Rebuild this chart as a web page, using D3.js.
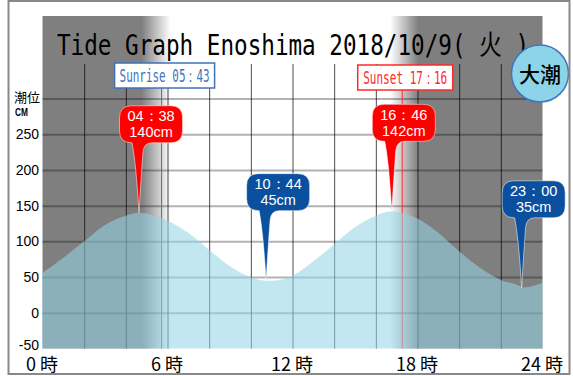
<html>
<head>
  <meta charset="utf-8">
  <script src="https://d3js.org/d3.v7.min.js"></script>
  <style>
    body { margin: 0; background: #fff; }
  </style>
  <script>
    // tide curve (hour -> cm)
    const tideHours  = [0, 1, 2, 3, 4, 5, 6, 7, 8, 9, 10, 11, 12, 13, 14, 15, 16, 17, 18, 19, 20, 21, 22, 23, 24];
    const tideLevels = [56, 77, 100, 123, 136, 139, 129, 112, 88, 65, 50, 45, 52, 72, 96, 120, 136, 141, 132, 112, 86, 63, 46, 36, 42];

    // high / low tides
    const extremeTimes  = ["04:38", "10:44", "16:46", "23:00"];
    const extremeLevels = [140, 45, 142, 35];
    const extremeKinds  = ["high", "low", "high", "low"];

    const sunNames = ["Sunrise", "Sunset"];
    const sunTimes = ["05:43", "17:16"];

    const yTickValues = [250, 200, 150, 100, 50, 0, -50];
    const xTickValues = [0, 6, 12, 18, 24];

    const titleText = "Tide Graph Enoshima 2018/10/9( 火 )";
    const tideName  = "大潮";

    function toHours(t) {
        var p = t.split(":");
        return +p[0] + (+p[1]) / 60;
    }
    function fullColon(t) { return t.replace(":", "："); }

    function makeGraph() {
        var svg = d3.select("#graph");
        var x = d3.scaleLinear().domain([0, 24]).range([42.5, 542.5]);
        var y = d3.scaleLinear().domain([-50, 300]).range([348.5, 98.5]);
        var top = 16, gridTop = 64, bottom = y(-50), width = x(24) - x(0);

        var riseX = x(toHours(sunTimes[0])), setX = x(toHours(sunTimes[1]));
        var frac = px => (px - x(0)) / width;

        // night / day background
        var grad = svg.append("defs").append("linearGradient")
            .attr("id", "sky").attr("gradientUnits", "userSpaceOnUse")
            .attr("x1", x(0)).attr("x2", x(24)).attr("y1", 0).attr("y2", 0);
        [[0, "#7f7f7f"], [frac(riseX - 20), "#7f7f7f"], [frac(riseX + 9), "#ffffff"],
         [frac(setX - 12), "#ffffff"], [frac(setX + 16), "#7f7f7f"], [1, "#7f7f7f"]]
            .forEach(s => grad.append("stop").attr("offset", s[0]).attr("stop-color", s[1]));

        svg.append("rect").attr("x", x(0)).attr("y", top)
            .attr("width", width).attr("height", bottom - top).attr("fill", "url(#sky)");

        // grid
        var gy = svg.append("g").attr("transform", "translate(" + x(0) + ",0)")
            .call(d3.axisLeft(y).tickValues(d3.range(0, 301, 50)).tickSize(-width).tickFormat(""));
        gy.select(".domain").remove();
        gy.selectAll("line").attr("stroke", "rgba(0,0,0,0.3)").attr("stroke-width", 2);

        var gx = svg.append("g").attr("transform", "translate(0," + bottom + ")")
            .call(d3.axisBottom(x).tickValues(d3.range(2, 23, 2)).tickSize(-(bottom - gridTop)).tickFormat(""));
        gx.select(".domain").remove();
        gx.selectAll("line").attr("stroke", "rgba(0,0,0,0.7)").attr("stroke-width", 1);

        // sunrise / sunset
        var sunColors = ["#3f72b8", "#ff2a2a"];
        var boxTop = [63, 65], boxW = [100, 95], textW = [90, 84];
        sunNames.forEach((name, i) => {
            var sx = x(toHours(sunTimes[i]));
            svg.append("line").attr("x1", sx).attr("x2", sx)
                .attr("y1", boxTop[i] + 25).attr("y2", bottom)
                .attr("stroke", sunColors[i]).attr("stroke-width", 1);
        });

        // tide area
        var pts = tideHours.map((h, i) => [h, tideLevels[i]]);
        extremeTimes.forEach((t, i) => pts.push([toHours(t), extremeLevels[i]]));
        pts.sort((a, b) => a[0] - b[0]);
        svg.append("path")
            .attr("d", d3.area().x(d => x(d[0])).y0(bottom).y1(d => y(d[1]))
                .curve(d3.curveMonotoneX)(pts))
            .attr("fill", "rgba(150,212,228,0.57)");

        sunNames.forEach((name, i) => {
            var cx = x(toHours(sunTimes[i])) + 3;
            svg.append("rect").attr("x", cx - boxW[i] / 2).attr("y", boxTop[i])
                .attr("width", boxW[i]).attr("height", 25)
                .attr("fill", "#fff").attr("stroke", sunColors[i]).attr("stroke-width", 1.5);
            svg.append("text").attr("x", cx).attr("y", boxTop[i] + 19)
                .attr("text-anchor", "middle")
                .attr("font-family", "DejaVu Sans Mono").attr("font-size", 17)
                .attr("textLength", textW[i]).attr("lengthAdjust", "spacingAndGlyphs")
                .attr("fill", sunColors[i])
                .text(name + "  " + fullColon(sunTimes[i]));
        });

        // high / low callouts
        function bubble(tx, ty) {
            var L = tx - 19.5, R = tx + 43.5, T = ty - 107, B = ty - 70, r = 12;
            var p = d3.path();
            p.moveTo(L + r, T);
            p.lineTo(R - r, T);
            p.quadraticCurveTo(R, T, R, T + r);
            p.lineTo(R, B - r);
            p.quadraticCurveTo(R, B, R - r, B);
            p.lineTo(tx + 13, B);
            p.quadraticCurveTo(tx + 5, B, tx + 4, B + 9);
            p.quadraticCurveTo(tx + 2, B + 35, tx, ty);
            p.quadraticCurveTo(tx - 3, B + 20, tx - 7, B);
            p.lineTo(L + r, B);
            p.quadraticCurveTo(L, B, L, B - r);
            p.lineTo(L, T + r);
            p.quadraticCurveTo(L, T, L + r, T);
            p.closePath();
            return p.toString();
        }
        extremeTimes.forEach((t, i) => {
            var tx = x(toHours(t)), ty = y(extremeLevels[i]);
            var g = svg.append("g");
            g.append("path").attr("d", bubble(tx, ty))
                .attr("fill", extremeKinds[i] == "high" ? "#ff0000" : "#0b4f9f")
                .attr("stroke", "rgba(255,255,255,0.5)").attr("stroke-width", 1);
            var tt = g.append("text").attr("text-anchor", "middle")
                .attr("font-family", "Liberation Sans, Arial").attr("font-size", 14.5)
                .attr("fill", "#fff");
            tt.append("tspan").attr("x", tx + 12).attr("y", ty - 91.5).text(fullColon(t));
            tt.append("tspan").attr("x", tx + 12).attr("y", ty - 75.5).text(extremeLevels[i] + "cm");
        });

        // title
        svg.append("text").attr("x", 57).attr("y", 55)
            .attr("font-family", "DejaVu Sans Mono, Noto Sans CJK JP").attr("font-size", 28)
            .attr("textLength", 472).attr("lengthAdjust", "spacingAndGlyphs")
            .attr("fill", "#000").text(titleText);

        // tide name badge
        svg.append("circle").attr("cx", 540).attr("cy", 73.5).attr("r", 28.5)
            .attr("fill", "#8dd4e8").attr("stroke", "#3f76bf").attr("stroke-width", 1.5);
        svg.append("text").attr("x", 540).attr("y", 82).attr("text-anchor", "middle")
            .attr("font-family", "Noto Sans CJK JP").attr("font-size", 21).attr("font-weight", 500)
            .text(tideName);

        // axes labels
        var ay = svg.append("g").attr("transform", "translate(41,0)")
            .call(d3.axisLeft(y).tickValues(yTickValues).tickSize(0).tickPadding(2).tickFormat(d => String(d)));
        ay.select(".domain").remove();
        ay.selectAll("text").attr("font-family", "Liberation Sans, Arial").attr("font-size", 14).attr("fill", "#000");
        ay.selectAll("text").filter(d => d == -50).attr("dy", "0.1em");

        var ax = svg.append("g").attr("transform", "translate(-1," + bottom + ")")
            .call(d3.axisBottom(x).tickValues(xTickValues).tickSize(0).tickPadding(10).tickFormat(d => d + " 時"));
        ax.select(".domain").remove();
        ax.selectAll("text").attr("font-family", "Noto Sans CJK JP").attr("font-size", 18).attr("fill", "#000");

        svg.append("text").attr("x", 14).attr("y", 102)
            .attr("font-family", "Noto Sans CJK JP").attr("font-size", 13).text("潮位");
        svg.append("text").attr("x", 15).attr("y", 116)
            .attr("font-family", "Liberation Sans, Arial").attr("font-size", 10).attr("font-weight", "bold")
            .attr("textLength", 13).attr("lengthAdjust", "spacingAndGlyphs").text("CM");

        // frame
        svg.append("rect").attr("x", 8.5).attr("y", 1).attr("width", 561).attr("height", 373)
            .attr("fill", "none").attr("stroke", "#888").attr("stroke-width", 2);
    }
  </script>
</head>

<body onload="makeGraph()">
  <svg id="graph" width="573" height="376"></svg>
</body>
</html>
